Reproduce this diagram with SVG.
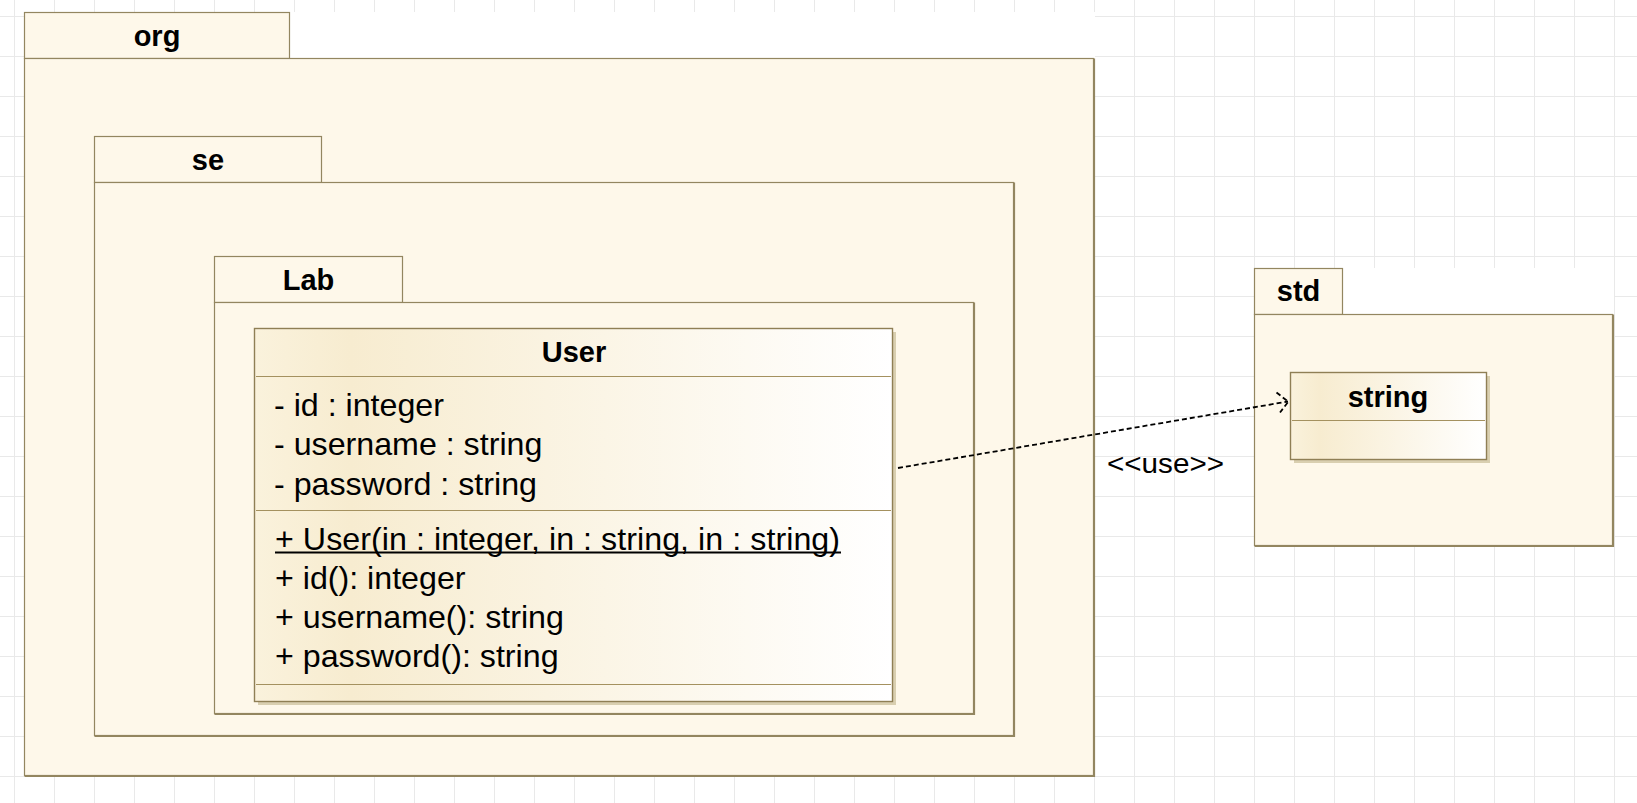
<svg xmlns="http://www.w3.org/2000/svg" width="1637" height="803" viewBox="0 0 1637 803">
<style>
  .pkg { fill: #fef8ea; stroke: #938660; stroke-width: 1.2; }
  .pkgEdge { fill: none; stroke: #938660; stroke-width: 1.2; }
  .cls { fill: url(#clsGrad); stroke: #8f7f55; stroke-width: 1.4; }
  .shadow { fill: #d9cfb0; }
  .div { stroke: #a4915f; stroke-width: 1; }
  .title { font-family: "Liberation Sans", Arial, sans-serif; font-weight: bold; font-size: 29px; fill: #000; text-anchor: middle; }
  .member { font-family: "Liberation Sans", Arial, sans-serif; font-size: 32.2px; fill: #000; }
  .uline { stroke: #000; stroke-width: 2; }
  .label { font-family: "Liberation Sans", Arial, sans-serif; font-size: 28px; fill: #000; }
  .dep { fill: none; stroke: #000; stroke-width: 1.8; stroke-dasharray: 5 3; }
  .mask { fill: #ffffff; }
</style>
<defs>
  <pattern id="grid" x="14" y="16" width="40" height="40" patternUnits="userSpaceOnUse">
    <path d="M0.5 0 V40 M0 0.5 H40" stroke="#e9e9e9" stroke-width="1" fill="none"/>
  </pattern>
  <linearGradient id="clsGrad" x1="0" y1="0" x2="1" y2="0">
    <stop offset="0" stop-color="#faf2dc"/>
    <stop offset="0.15" stop-color="#f7ecd0"/>
    <stop offset="0.55" stop-color="#fbf5e6"/>
    <stop offset="1" stop-color="#ffffff"/>
  </linearGradient>
</defs>

<!-- background grid -->
<rect x="0" y="0" width="1637" height="803" fill="#ffffff"/>
<rect x="0" y="0" width="1637" height="803" fill="url(#grid)"/>
<rect class="mask" x="24" y="12" width="1071" height="765"/>
<rect class="mask" x="1254" y="268" width="360" height="279"/>

<g id="pkg-org">
  <rect class="pkg" x="24.5" y="12.5" width="265" height="46"/>
  <rect class="pkg" x="24.5" y="58.5" width="1069" height="717"/>
  <path class="pkgEdge" d="M1094.5 58.5 V776.5 H24.5"/>
  <text class="title" x="157" y="45.5">org</text>
</g>

<g id="pkg-se">
  <rect class="pkg" x="94.5" y="136.5" width="227" height="46"/>
  <rect class="pkg" x="94.5" y="182.5" width="919" height="553"/>
  <path class="pkgEdge" d="M1014.5 182.5 V736.5 H94.5"/>
  <text class="title" x="208" y="169.5">se</text>
</g>

<g id="pkg-Lab">
  <rect class="pkg" x="214.5" y="256.5" width="188" height="46"/>
  <rect class="pkg" x="214.5" y="302.5" width="759" height="411"/>
  <path class="pkgEdge" d="M974.5 302.5 V714.5 H214.5"/>
  <text class="title" x="308.5" y="290">Lab</text>
</g>

<g id="class-User">
  <rect class="shadow" x="258" y="332" width="638" height="373"/>
  <rect class="cls" x="254.5" y="328.5" width="638" height="373"/>
  <text class="title" x="574" y="362">User</text>
  <line class="div" x1="256" y1="376.5" x2="891" y2="376.5"/>
  <text class="member" x="274" y="416">- id : integer</text>
  <text class="member" x="274" y="455">- username : string</text>
  <text class="member" x="274" y="495">- password : string</text>
  <line class="div" x1="256" y1="510.5" x2="891" y2="510.5"/>
  <text class="member" x="275" y="550" textLength="565" lengthAdjust="spacing">+ User(in : integer, in : string, in : string)</text>
  <line class="uline" x1="275" y1="552.5" x2="841" y2="552.5"/>
  <text class="member" x="275" y="589">+ id(): integer</text>
  <text class="member" x="275" y="628">+ username(): string</text>
  <text class="member" x="275" y="667">+ password(): string</text>
  <line class="div" x1="256" y1="684.5" x2="891" y2="684.5"/>
</g>

<g id="pkg-std">
  <rect class="pkg" x="1254.5" y="268.5" width="88" height="46"/>
  <rect class="pkg" x="1254.5" y="314.5" width="358" height="231"/>
  <path class="pkgEdge" d="M1613.5 314.5 V546.5 H1254.5"/>
  <text class="title" x="1298.5" y="301">std</text>
</g>

<g id="class-string">
  <rect class="shadow" x="1294" y="376" width="196" height="87"/>
  <rect class="cls" x="1290.5" y="372.5" width="196" height="87"/>
  <text class="title" x="1388" y="406.5">string</text>
  <line class="div" x1="1292" y1="420.5" x2="1485" y2="420.5"/>
</g>

<g id="connectors">
  <line class="dep" x1="898" y1="468" x2="1288" y2="401.5"/>
  <polyline class="dep" points="1276.5,392.5 1288.3,401.7 1280,412.5"/>
  <text class="label" x="1107" y="473" textLength="117" lengthAdjust="spacingAndGlyphs">&lt;&lt;use&gt;&gt;</text>
</g>
</svg>
